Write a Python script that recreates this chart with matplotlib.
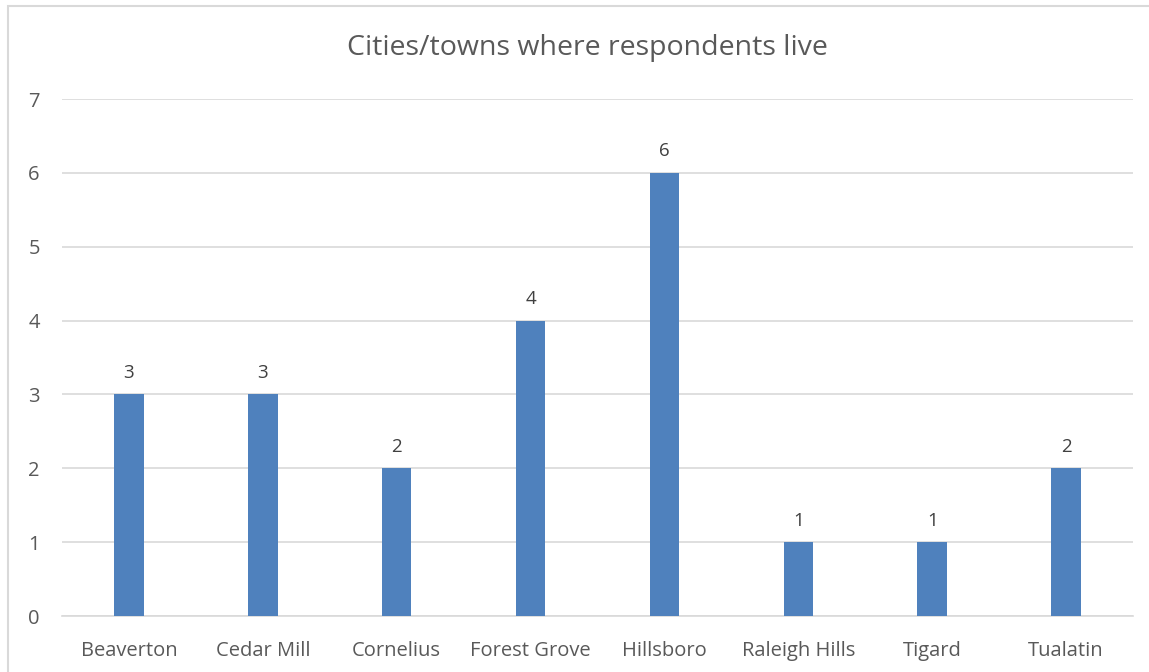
import matplotlib.pyplot as plt
from matplotlib.patches import Rectangle

cities = ["Beaverton", "Cedar Mill", "Cornelius", "Forest Grove",
          "Hillsboro", "Raleigh Hills", "Tigard", "Tualatin"]
counts = [3, 3, 2, 4, 6, 1, 1, 2]
y_ticks = [0, 1, 2, 3, 4, 5, 6, 7]

plt.rcParams['font.family'] = ['Open Sans', 'DejaVu Sans']

fig = plt.figure(figsize=(11.49, 6.72), dpi=100)
ax = fig.add_axes([62 / 1149, 1 - 616 / 672, (1133 - 62) / 1149, (616 - 99) / 672])

# chart frame
fig.patches.append(Rectangle((8 / 1149, -0.1), 1.2, 1 - 6 / 672 + 0.1,
                             transform=fig.transFigure, fill=False,
                             edgecolor="#d9d9d9", linewidth=1.5))

x = range(len(cities))
bars = ax.bar(x, counts, width=0.22, color="#4f81bd", zorder=3)
for xi, v in zip(x, counts):
    ax.annotate(str(v), (xi, v), xytext=(0, 9), textcoords="offset points",
                ha="center", va="bottom", fontsize=13.5, color="#404040")

ax.set_xlim(-0.5, len(cities) - 0.5)
ax.set_ylim(0, 7)
ax.set_yticks(y_ticks)
ax.set_xticks(list(x))
ax.set_xticklabels(cities)
ax.yaxis.grid(True, color="#d9d9d9", linewidth=1.2, zorder=0)
for s in ["top", "right", "left"]:
    ax.spines[s].set_visible(False)
ax.spines["bottom"].set_color("#d9d9d9")
ax.spines["bottom"].set_linewidth(1.2)
ax.tick_params(axis="both", length=0, labelsize=14.5, colors="#595959")
ax.tick_params(axis="y", pad=16)
ax.tick_params(axis="x", pad=18)

fig.text(587 / 1149, 1 - 48 / 672, "Cities/towns where respondents live",
         ha="center", va="center", fontsize=20.5, color="#595959")

fig.savefig("out.png", dpi=100)
